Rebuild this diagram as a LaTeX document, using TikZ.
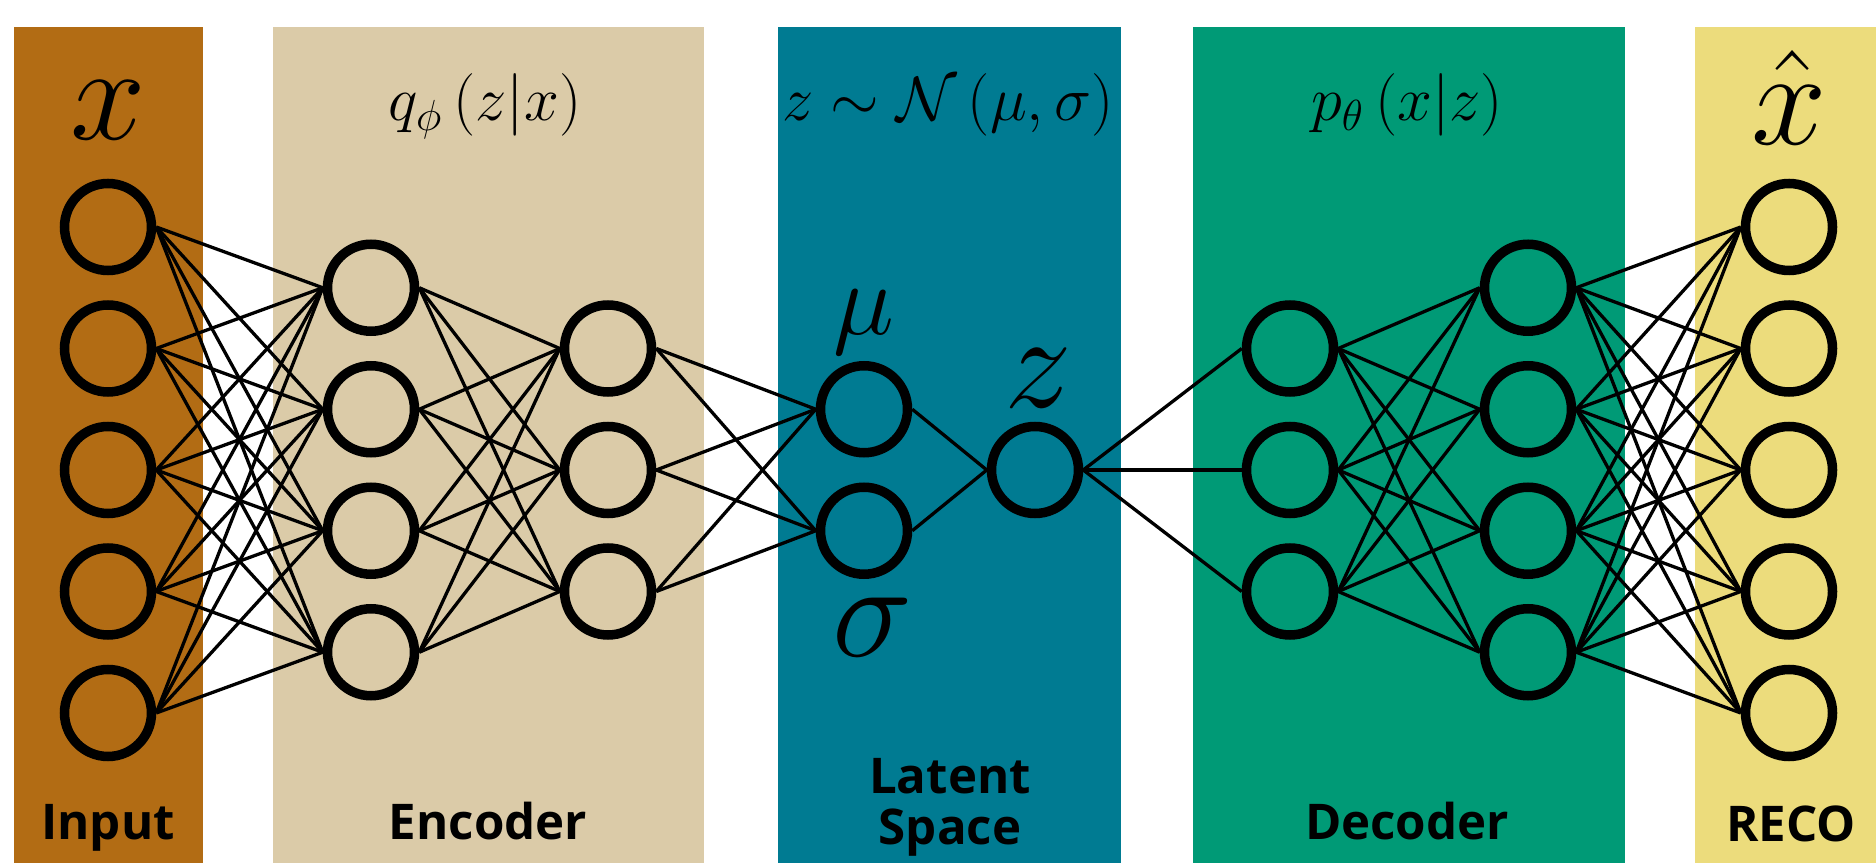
\documentclass[tikz,border=0pt]{standalone}
\usepackage{fontspec}
\newfontfamily\labelfont{Open Sans}
\usepackage{amsmath}
\usetikzlibrary{positioning}
\definecolor{vaeinput}{HTML}{B26C14}
\definecolor{vaeenc}{HTML}{DBCBA8}
\definecolor{vaelatent}{HTML}{007B92}
\definecolor{vaedec}{HTML}{009A76}
\definecolor{vaereco}{HTML}{ECDC7C}

\begin{document}
\begin{tikzpicture}[
  neuron/.style={circle, draw=black, line width=0.095cm, minimum size=0.87cm,
                 inner sep=0pt},
  link/.style={line width=0.033cm, black},
  toplbl/.style={anchor=base, font=\fontsize{17.28}{20}\selectfont, scale=1.03},
  biglbl/.style={anchor=base, font=\fontsize{24.88}{28}\selectfont, scale=#1},
  partlbl/.style={anchor=base, align=center,
                  font=\labelfont\bfseries\fontsize{14}{14.5}\selectfont},
]
\useasboundingbox (0,0) rectangle (18.76,8.63);

% colour bands
\fill[vaeinput]  (0.14,0) rectangle (2.03,8.36);
\fill[vaeenc]    (2.73,0) rectangle (7.04,8.36);
\fill[vaelatent] (7.78,0) rectangle (11.21,8.36);
\fill[vaedec]    (11.93,0) rectangle (16.25,8.36);
\fill[vaereco]   (16.95,0) rectangle (18.76,8.36);

% neurons
\foreach \i in {1,...,5} {
  \node[neuron] (in\i)  at (1.08,  {3.93+(3-\i)*1.215}) {};
  \node[neuron] (out\i) at (17.89, {3.93+(3-\i)*1.215}) {};
}
\foreach \i in {1,...,4} {
  \node[neuron] (encA\i) at (3.71,  {3.93+(2.5-\i)*1.215}) {};
  \node[neuron] (decB\i) at (15.28, {3.93+(2.5-\i)*1.215}) {};
}
\foreach \i in {1,...,3} {
  \node[neuron] (encB\i) at (6.08,  {3.93+(2-\i)*1.215}) {};
  \node[neuron] (decA\i) at (12.90, {3.93+(2-\i)*1.215}) {};
}
\node[neuron] (mu)    at (8.64, {3.93+0.5*1.215}) {};
\node[neuron] (sigma) at (8.64, {3.93-0.5*1.215}) {};
\node[neuron] (zz)    at (10.35, 3.93) {};

% links
\foreach \a in {1,...,5}
  \foreach \b in {1,...,4} {
    \draw[link] (in\a.east) -- (encA\b.west);
    \draw[link] (decB\b.east) -- (out\a.west);
  }
\foreach \a in {1,...,4}
  \foreach \b in {1,...,3} {
    \draw[link] (encA\a.east) -- (encB\b.west);
    \draw[link] (decA\b.east) -- (decB\a.west);
  }
\foreach \b in {1,...,3} {
  \draw[link] (encB\b.east) -- (mu.west);
  \draw[link] (encB\b.east) -- (sigma.west);
  \draw[link] (zz.east) -- (decA\b.west);
}
\draw[link] (mu.east) -- (zz.west);
\draw[link] (sigma.east) -- (zz.west);

% formulas
\node[biglbl=1.55] (xlbl) at (1.08,7.23) {$x$};
\node[toplbl] (qlbl) at (4.85,7.42) {$q_\phi\left(z|x\right)$};
\node[toplbl] (nlbl) at (9.48,7.42) {$z\sim\mathcal{N}\left(\mu,\sigma\right)$};
\node[toplbl] (plbl) at (14.07,7.42) {$p_\theta\left(x|z\right)$};
\node[biglbl=1.55] (xhatlbl) at (17.89,7.18) {$\hat{x}$};
\node[biglbl=1.18] (mulbl) at (8.64,5.28) {$\mu$};
\node[biglbl=1.55] (zlbl) at (10.38,4.55) {$z$};
\node[biglbl=1.55] (sigmalbl) at (8.73,2.06) {$\sigma$};

% part names
\node[partlbl] (inlbl)  at (1.08,0.23)  {Input};
\node[partlbl] (enclbl) at (4.88,0.23)  {Encoder};
\node[partlbl, anchor=center] (latlbl) at (9.50,0.56) {Latent\\Space};
\node[partlbl] (declbl) at (14.07,0.23) {Decoder};
\node[partlbl] (recolbl) at (17.91,0.22) {RECO};
\end{tikzpicture}
\end{document}
